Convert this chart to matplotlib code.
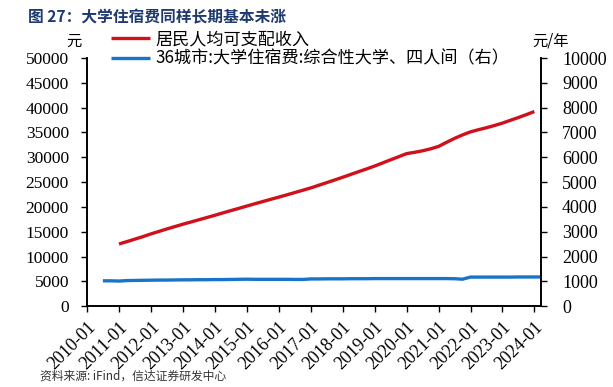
import matplotlib
matplotlib.use("Agg")
import matplotlib.pyplot as plt
import pandas as pd

plt.rcParams['font.family'] = ['Liberation Serif', 'Noto Sans CJK SC', 'DejaVu Sans']

# 居民人均可支配收入（元，季度滚动），2011-01 ~ 2024-01
income_dates = pd.date_range("2011-01-01", "2024-01-01", freq="QS-JAN")
income = [12520, 13000, 13500, 14000,
          14551, 15050, 15550, 16030,
          16510, 16950, 17400, 17850,
          18311, 18780, 19240, 19700,
          20167, 20620, 21070, 21520,
          21966, 22420, 22880, 23350,
          23821, 24350, 24880, 25420,
          25974, 26530, 27090, 27650,
          28228, 28850, 29480, 30100,
          30733, 31000, 31300, 31700,
          32189, 33000, 33800, 34500,
          35128, 35550, 35950, 36400,
          36883, 37450, 38000, 38600,
          39218]

# 36城市:大学住宿费:综合性大学、四人间（元/年，右轴），2010-07 ~ 2024-04
fee_dates = pd.date_range("2010-07-01", "2024-04-01", freq="QS-JAN")
fee = [1020, 1020,
       1010, 1030, 1035, 1040,
       1045, 1050, 1050, 1055,
       1060, 1060, 1065, 1065,
       1070, 1070, 1075, 1080,
       1085, 1080, 1080, 1080,
       1080, 1080, 1075, 1075,
       1095, 1095, 1100, 1100,
       1100, 1105, 1105, 1105,
       1110, 1110, 1110, 1110,
       1110, 1110, 1110, 1110,
       1110, 1110, 1105, 1085,
       1170, 1170, 1170, 1170,
       1170, 1170, 1175, 1175,
       1175, 1175]

tick_years = list(range(2010, 2025))
tick_labels = [f"{y}-01" for y in tick_years]

red = '#d0101a'
blue = '#1874c8'
cjk = ['Noto Sans CJK SC', 'DejaVu Sans']

fig = plt.figure(figsize=(6.13, 3.87), dpi=100)
ax = fig.add_axes([0.142, 0.209, 0.741, 0.641])
ax2 = ax.twinx()

l1, = ax.plot(income_dates, income, color=red, lw=2.4, solid_capstyle='butt')
l2, = ax2.plot(fee_dates, fee, color=blue, lw=2.4, solid_capstyle='butt')

ax.set_ylim(0, 50000)
ax.set_yticks(range(0, 50001, 5000))
ax2.set_ylim(0, 10000)
ax2.set_yticks(range(0, 10001, 1000))
ax.set_xlim(pd.Timestamp("2010-01-01"), pd.Timestamp("2024-03-20"))
ax.set_xticks([pd.Timestamp(f"{y}-01-01") for y in tick_years])
ax.set_xticklabels(tick_labels, rotation=45, ha='right', rotation_mode='anchor')

for a in (ax, ax2):
    a.spines['top'].set_visible(False)
    for s in a.spines.values():
        s.set_linewidth(1.2)
    a.tick_params(direction='out', length=4, width=1.0, labelsize=12.5, pad=3)
ax.tick_params(axis='x', labelsize=13, pad=5)
ax.tick_params(axis='y', pad=9)
ax2.tick_params(axis='y', labelsize=13, pad=11)

ax.text(-0.03, 1.035, '元', transform=ax.transAxes, fontsize=11, family=cjk, ha='center', va='bottom')
ax2.text(1.02, 1.035, '元/年', transform=ax2.transAxes, fontsize=11, family=cjk, ha='center', va='bottom')

leg = fig.legend([l1, l2], ['居民人均可支配收入', '36城市:大学住宿费:综合性大学、四人间（右）'],
                 loc='upper left', bbox_to_anchor=(0.17, 0.94), frameon=False,
                 prop={'family': cjk, 'size': 12.3}, handlelength=2.3, handletextpad=0.3,
                 labelspacing=0.1, borderaxespad=0)

fig.text(0.045, 0.975, '图 27：大学住宿费同样长期基本未涨', fontsize=11.3, fontweight='bold',
         color='#1f3a6e', family=cjk, ha='left', va='top')
fig.text(0.066, 0.012, '资料来源: iFind，信达证券研发中心', fontsize=8.5, style='italic',
         color='#333333', family=cjk, ha='left', va='bottom')

fig.savefig('out.png', dpi=100)
